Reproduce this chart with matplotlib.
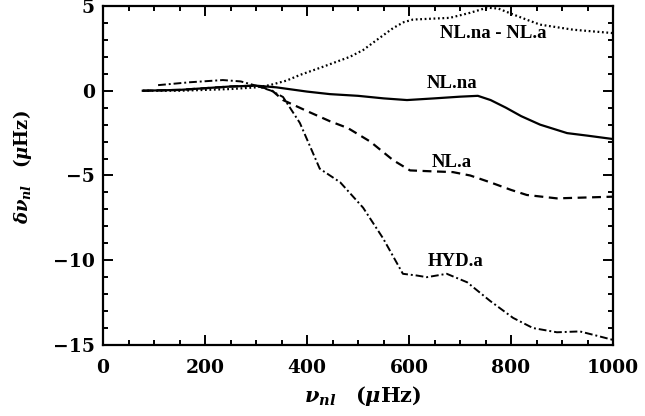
import numpy as np
import matplotlib
matplotlib.use('Agg')
import matplotlib.pyplot as plt
from matplotlib.ticker import MultipleLocator

plt.rcParams['font.family'] = 'DejaVu Serif'
plt.rcParams['font.weight'] = 'bold'
plt.rcParams['mathtext.fontset'] = 'dejavuserif'

# curves (frequency in muHz, shift in muHz)
na_x = [78, 150, 200, 250, 300, 340, 400, 445, 500, 550, 596, 650, 700, 735, 760, 790, 820, 857, 910, 950, 1000]
na_y = [0.0, 0.05, 0.15, 0.25, 0.3, 0.2, -0.05, -0.2, -0.3, -0.45, -0.55, -0.45, -0.35, -0.3, -0.55, -1.0, -1.5, -2.0, -2.5, -2.65, -2.85]

a_x = [78, 150, 200, 250, 300, 330, 353, 400, 445, 480, 524, 569, 602, 641, 686, 720, 759, 800, 831, 890, 1000]
a_y = [0.0, 0.05, 0.15, 0.25, 0.3, 0.05, -0.55, -1.2, -1.8, -2.2, -3.0, -4.1, -4.7, -4.75, -4.8, -5.0, -5.4, -5.85, -6.15, -6.35, -6.25]

diff_x = [78, 150, 200, 250, 300, 327, 360, 386, 430, 484, 510, 537, 569, 590, 608, 680, 720, 753, 775, 800, 830, 857, 922, 1000]
diff_y = [0.0, 0.0, 0.05, 0.1, 0.2, 0.33, 0.6, 0.93, 1.4, 2.0, 2.4, 3.0, 3.7, 4.05, 4.2, 4.3, 4.6, 4.9, 4.85, 4.55, 4.2, 3.9, 3.6, 3.4]

hyd_x = [108, 170, 235, 270, 300, 330, 353, 386, 425, 465, 510, 549, 588, 615, 635, 674, 714, 759, 804, 843, 890, 935, 968, 1000]
hyd_y = [0.33, 0.5, 0.63, 0.55, 0.3, 0.0, -0.37, -1.9, -4.6, -5.4, -6.9, -8.7, -10.8, -10.9, -11.0, -10.8, -11.3, -12.4, -13.4, -14.0, -14.25, -14.2, -14.45, -14.7]

fig = plt.figure(figsize=(6.45, 4.16), dpi=100)
ax = fig.add_axes([0.1597, 0.1707, 0.7907, 0.8149])

ax.plot(na_x, na_y, '-', color='black', lw=1.6)
ax.plot(a_x, a_y, '--', color='black', lw=1.6, dashes=(4, 2.5))
ax.plot(diff_x, diff_y, ':', color='black', lw=1.6, dashes=(0.8, 1.2))
ax.plot(hyd_x, hyd_y, '-.', color='black', lw=1.4, dashes=(4, 1.5, 1, 1.5))

lab_font = dict(family='Liberation Serif', weight='bold', fontsize=13.5, ha='center', va='center')
ax.text(765, 3.4, 'NL.na - NL.a', **lab_font)
ax.text(684, 0.4, 'NL.na', **lab_font)
ax.text(684, -4.25, 'NL.a', **lab_font)
ax.text(692, -10.1, 'HYD.a', **lab_font)

ax.set_xlim(0, 1000)
ax.set_ylim(-15, 5)
ax.xaxis.set_major_locator(MultipleLocator(200))
ax.xaxis.set_minor_locator(MultipleLocator(50))
ax.yaxis.set_major_locator(MultipleLocator(5))
ax.yaxis.set_minor_locator(MultipleLocator(1))
ax.tick_params(which='both', direction='in', top=True, right=True, width=1.4)
ax.tick_params(which='major', length=7, labelsize=13.5)
ax.tick_params(which='minor', length=3.5)
ax.tick_params(axis='x', which='major', pad=10)
ax.tick_params(axis='y', which='major', pad=6)
ax.set_yticks([5, 0, -5, -10, -15])
ax.set_yticklabels(['5', '0', '\u22125', '\u221210', '\u221215'])
for sp in ax.spines.values():
    sp.set_linewidth(1.6)

ax.set_xlabel(r'$\nu_{nl}$   $(\mu\mathbf{Hz})$', fontsize=15)
ax.xaxis.set_label_coords(0.51, -0.115)
ax.xaxis.label.set_va('top')
ax.set_ylabel(r'$\delta\nu_{nl}$   $(\mu\mathbf{Hz})$', fontsize=13)
ax.yaxis.set_label_coords(-0.135, 0.525)

plt.savefig('out.png', dpi=100)
